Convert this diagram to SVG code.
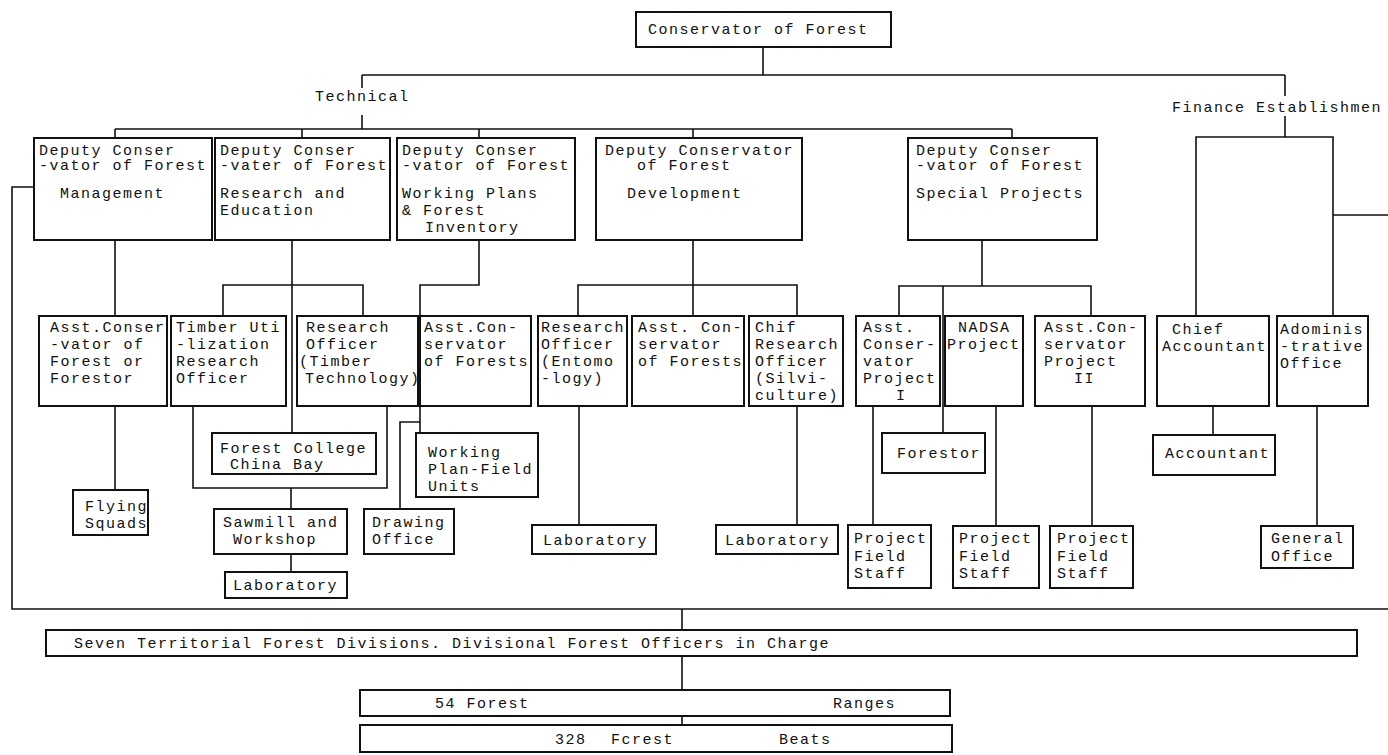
<svg xmlns="http://www.w3.org/2000/svg" width="1388" height="755" viewBox="0 0 1388 755">
<style>
.box{fill:#fff;stroke:#111;stroke-width:2}
.ln{fill:none;stroke:#111;stroke-width:1.6}
text{font-family:"Liberation Mono","Courier New",monospace;font-size:15px;letter-spacing:1.5px;fill:#111}
</style>
<rect x="0" y="0" width="1388" height="755" fill="#fff"/>
<g id="connectors" class="ln">
<path d="M763 47V75M362 75H1285M362 75V88M362 115V129M1285 75V96M1285 116V137"/>
<path d="M115 129H1012M115 129V138M302 129V138M479 129V138M693 129V138M1012 129V138"/>
<path d="M1196 316V137H1333V316M1333 215H1388"/>
<path d="M34 187H12V609H1388M682 609V630"/>
<path d="M115 240V316M115 406V490"/>
<path d="M292 240V433M223 316V285H363V316M193 406V488H387V406M291 488V509M291 554V572"/>
<path d="M479 240V285H420V433M420 422H400V509"/>
<path d="M693 240V316M578 316V285H797V316M579 406V525M797 406V525"/>
<path d="M982 240V286M899 316V286H1091V316M943 286V433M873 406V525M996 406V526M1092 406V526"/>
<path d="M1213 406V435M1317 406V526"/>
<path d="M682 656V690M682 716V725"/>
</g>
<g id="n-conservator"><rect class="box" x="636" y="12" width="255" height="35"/><text x="648" y="34">Conservator of Forest</text></g>
<g id="l-technical"><text x="315" y="101">Technical</text></g>
<g id="l-finance"><text x="1172" y="112">Finance Establishmen</text></g>

<g id="n-dcf-mgmt"><rect class="box" x="34" y="138" width="178" height="102"/><text x="39" y="155">Deputy Conser</text><text x="39" y="170">-vator of Forest</text><text x="60" y="198">Management</text></g>
<g id="n-dcf-research"><rect class="box" x="215" y="138" width="175" height="102"/><text x="220" y="155">Deputy Conser</text><text x="220" y="170">-vater of Forest</text><text x="220" y="198">Research and</text><text x="220" y="215">Education</text></g>
<g id="n-dcf-wp"><rect class="box" x="397" y="138" width="178" height="102"/><text x="402" y="155">Deputy Conser</text><text x="402" y="170">-vator of Forest</text><text x="402" y="198">Working Plans</text><text x="402" y="215">&amp; Forest</text><text x="425" y="232">Inventory</text></g>
<g id="n-dcf-dev"><rect class="box" x="596" y="138" width="206" height="102"/><text x="605" y="155">Deputy Conservator</text><text x="637" y="170">of Forest</text><text x="627" y="198">Development</text></g>
<g id="n-dcf-special"><rect class="box" x="908" y="138" width="189" height="102"/><text x="916" y="155">Deputy Conser</text><text x="916" y="170">-vator of Forest</text><text x="916" y="198">Special Projects</text></g>

<g id="n-acf-mgmt"><rect class="box" x="39" y="316" width="128" height="90"/><text x="50" y="332">Asst.Conser</text><text x="50" y="349">-vator of</text><text x="50" y="366">Forest or</text><text x="50" y="383">Forestor</text></g>
<g id="n-timber"><rect class="box" x="171" y="316" width="115" height="90"/><text x="176" y="332">Timber Uti</text><text x="176" y="349">-lization</text><text x="176" y="366">Research</text><text x="176" y="383">Officer</text></g>
<g id="n-ro-timber"><rect class="box" x="297" y="316" width="121" height="90"/><text x="306" y="332">Research</text><text x="306" y="349">Officer</text><text x="299" y="366">(Timber</text><text x="305" y="383">Technology)</text></g>
<g id="n-acf-wp"><rect class="box" x="420" y="316" width="111" height="90"/><text x="424" y="332">Asst.Con-</text><text x="424" y="349">servator</text><text x="424" y="366">of Forests</text></g>
<g id="n-ro-ento"><rect class="box" x="538" y="316" width="89" height="90"/><text x="541" y="332">Research</text><text x="541" y="349">Officer</text><text x="541" y="366">(Entomo</text><text x="541" y="383">-logy)</text></g>
<g id="n-acf-dev"><rect class="box" x="632" y="316" width="112" height="90"/><text x="638" y="332">Asst. Con-</text><text x="638" y="349">servator</text><text x="638" y="366">of Forests</text></g>
<g id="n-chif"><rect class="box" x="749" y="316" width="94" height="90"/><text x="755" y="332">Chif</text><text x="755" y="349">Research</text><text x="755" y="366">Officer</text><text x="755" y="383">(Silvi-</text><text x="755" y="400">culture)</text></g>
<g id="n-acp1"><rect class="box" x="856" y="316" width="84" height="90"/><text x="863" y="332">Asst.</text><text x="863" y="349">Conser-</text><text x="863" y="366">vator</text><text x="863" y="383">Project</text><text x="896" y="400">I</text></g>
<g id="n-nadsa"><rect class="box" x="945" y="316" width="78" height="90"/><text x="958" y="332">NADSA</text><text x="947" y="349">Project</text></g>
<g id="n-acp2"><rect class="box" x="1035" y="316" width="110" height="90"/><text x="1044" y="332">Asst.Con-</text><text x="1044" y="349">servator</text><text x="1044" y="366">Project</text><text x="1074" y="383">II</text></g>
<g id="n-chief-acc"><rect class="box" x="1157" y="316" width="112" height="90"/><text x="1172" y="334">Chief</text><text x="1162" y="351">Accountant</text></g>
<g id="n-admin"><rect class="box" x="1277" y="316" width="91" height="90"/><text x="1280" y="334">Adominis</text><text x="1280" y="351">-trative</text><text x="1280" y="368">Office</text></g>

<g id="n-college"><rect class="box" x="212" y="433" width="164" height="41"/><text x="220" y="453">Forest College</text><text x="230" y="469">China Bay</text></g>
<g id="n-wpfu"><rect class="box" x="416" y="433" width="122" height="64"/><text x="428" y="457">Working</text><text x="428" y="474">Plan-Field</text><text x="428" y="491">Units</text></g>
<g id="n-flying"><rect class="box" x="73" y="490" width="75" height="45"/><text x="85" y="511">Flying</text><text x="85" y="528">Squads</text></g>
<g id="n-sawmill"><rect class="box" x="214" y="509" width="133" height="45"/><text x="223" y="527">Sawmill and</text><text x="233" y="544">Workshop</text></g>
<g id="n-lab1"><rect class="box" x="225" y="572" width="122" height="26"/><text x="233" y="590">Laboratory</text></g>
<g id="n-drawing"><rect class="box" x="364" y="509" width="90" height="45"/><text x="372" y="527">Drawing</text><text x="372" y="544">Office</text></g>
<g id="n-lab2"><rect class="box" x="532" y="525" width="124" height="29"/><text x="543" y="545">Laboratory</text></g>
<g id="n-lab3"><rect class="box" x="716" y="525" width="122" height="29"/><text x="725" y="545">Laboratory</text></g>
<g id="n-forestor"><rect class="box" x="882" y="433" width="103" height="40"/><text x="897" y="458">Forestor</text></g>
<g id="n-pfs1"><rect class="box" x="848" y="525" width="83" height="63"/><text x="854" y="543">Project</text><text x="854" y="561">Field</text><text x="854" y="578">Staff</text></g>
<g id="n-pfs2"><rect class="box" x="953" y="526" width="86" height="62"/><text x="959" y="543">Project</text><text x="959" y="561">Field</text><text x="959" y="578">Staff</text></g>
<g id="n-pfs3"><rect class="box" x="1050" y="526" width="83" height="62"/><text x="1057" y="543">Project</text><text x="1057" y="561">Field</text><text x="1057" y="578">Staff</text></g>
<g id="n-accountant"><rect class="box" x="1153" y="435" width="122" height="40"/><text x="1165" y="458">Accountant</text></g>
<g id="n-general"><rect class="box" x="1261" y="526" width="92" height="42"/><text x="1271" y="543">General</text><text x="1271" y="561">Office</text></g>

<g id="n-territorial"><rect class="box" x="46" y="630" width="1311" height="26"/><text x="74" y="648">Seven Territorial Forest Divisions. Divisional Forest Officers in Charge</text></g>
<g id="n-ranges"><rect class="box" x="360" y="690" width="590" height="26"/><text x="435" y="708">54 Forest</text><text x="833" y="708">Ranges</text></g>
<g id="n-beats"><rect class="box" x="360" y="725" width="592" height="27"/><text x="555" y="744">328</text><text x="611" y="744">Fcrest</text><text x="779" y="744">Beats</text></g>
</svg>
